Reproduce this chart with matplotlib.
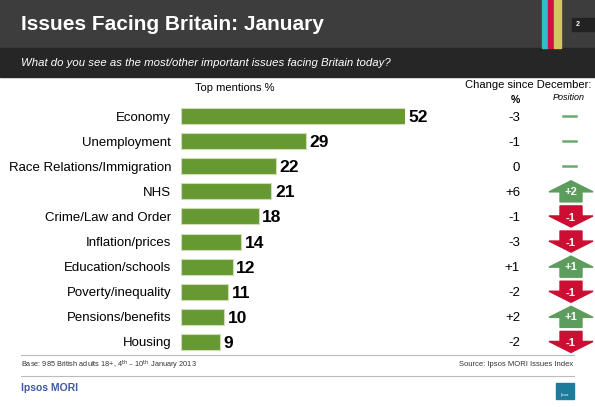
import matplotlib.pyplot as plt
from matplotlib.patches import Rectangle, Polygon
from matplotlib.transforms import blended_transform_factory

plt.rcParams['font.family'] = ['Liberation Sans', 'DejaVu Sans']

issues = ["Economy", "Unemployment", "Race Relations/Immigration", "NHS",
          "Crime/Law and Order", "Inflation/prices", "Education/schools",
          "Poverty/inequality", "Pensions/benefits", "Housing"]
mentions = [52, 29, 22, 21, 18, 14, 12, 11, 10, 9]
change_pct = ["-3", "-1", "0", "+6", "-1", "-3", "+1", "-2", "+2", "-2"]
position_change = [0, 0, 0, 2, -1, -1, 1, -1, 1, -1]

bar_green = "#679933"
up_green = "#5c9c5c"
down_red = "#cc0e33"

fig = plt.figure(figsize=(5.95, 4.07), dpi=100)

# background layer in pixel coordinates
deco = fig.add_axes([0, 0, 1, 1])
deco.set_xlim(0, 595)
deco.set_ylim(407, 0)
deco.axis("off")

deco.add_patch(Rectangle((0, 0), 595, 48, color="#3d3d3d"))
deco.add_patch(Rectangle((0, 48), 595, 29, color="#262626"))
deco.add_patch(Rectangle((542, 0), 6, 48, color="#2bbfca"))
deco.add_patch(Rectangle((548, 0), 6, 48, color="#d2103c"))
deco.add_patch(Rectangle((554, 0), 7, 48, color="#d6c45c"))
deco.add_patch(Rectangle((572, 18), 23, 13, color="#222222"))
deco.text(578, 25, "2", color="white", fontsize=5, fontweight="bold", va="center", ha="center")

deco.text(21, 25, "Issues Facing Britain: January", color="white", fontsize=15,
          fontweight="bold", va="center", ha="left")
deco.text(21, 63, "What do you see as the most/other important issues facing Britain today?",
          color="white", fontsize=8.2, style="italic", va="center", ha="left")

deco.text(235, 88, "Top mentions %", fontsize=8, ha="center", va="center")
deco.text(591, 85, "Change since December:", fontsize=8, ha="right", va="center")
deco.text(515, 100, "%", fontsize=7.5, fontweight="bold", ha="center", va="center")
deco.text(569, 98, "Position", fontsize=6.5, style="italic", ha="center", va="center")

# footer
deco.plot([21, 574], [355, 355], color="#bbbbbb", lw=0.8)
deco.plot([21, 574], [376, 376], color="#bbbbbb", lw=0.8)
deco.text(21, 365, r"Base: 985 British adults 18+, 4$^{\rm th}$ – 10$^{\rm th}$ January 2013",
          fontsize=5.3, ha="left", va="center", color="#333333")
deco.text(573, 365, "Source: Ipsos MORI Issues Index", fontsize=5.5, ha="right",
          va="center", color="#333333")
deco.text(21, 388, "Ipsos MORI", fontsize=7.5, fontweight="bold", color="#3b5aa0",
          ha="left", va="center")
deco.add_patch(Rectangle((556, 383), 18, 16, color="#1d7c9c"))
deco.text(565, 395, "Ipsos", fontsize=2.5, color="white", ha="center", va="center")

# bars
ax = fig.add_axes([181 / 595, 1 - 354.5 / 407, 224 / 595, 251 / 407])
ax.barh(range(len(issues)), mentions, height=0.64, color=bar_green,
        edgecolor="#cfdcb6", linewidth=0.8)
ax.set_xlim(0, 52)
ax.set_ylim(len(issues) - 0.5, -0.5)
ax.set_yticks(range(len(issues)))
ax.set_yticklabels(issues, fontsize=9.5)
ax.tick_params(axis="y", length=0, pad=7)
ax.set_xticks([])
for s in ax.spines.values():
    s.set_visible(False)
ax.patch.set_alpha(0)

for i, v in enumerate(mentions):
    ax.text(v + 0.8, i, str(v), fontsize=12.5, fontweight="bold", va="center_baseline",
            ha="left", clip_on=False)

# change columns: x in pixels, y in bar data units
tr = blended_transform_factory(deco.transData, ax.transData)
cx = 571
for i, (pct, pos) in enumerate(zip(change_pct, position_change)):
    ax.text(520, i, pct, fontsize=9.5, ha="right", va="center_baseline", transform=tr)
    if pos == 0:
        ax.plot([563, 576], [i, i], color="#6aaa6a", lw=1.8, transform=tr, clip_on=False)
        continue
    d = 1 if pos > 0 else -1
    tip = i - d * 0.42
    base = i + d * 0.02
    tail = i + d * 0.42
    pts = [(cx, tip), (cx + 22, base), (cx + 11, base), (cx + 11, tail),
           (cx - 11, tail), (cx - 11, base), (cx - 22, base)]
    color = up_green if pos > 0 else down_red
    ax.add_patch(Polygon(pts, closed=True, color=color, transform=tr, clip_on=False))
    label = f"+{pos}" if pos > 0 else f"{pos}"
    ax.text(cx, i - d * 0.02, label, fontsize=8, fontweight="bold", color="white",
            ha="center", va="center_baseline", transform=tr)

fig.savefig("out.png", dpi=100)
